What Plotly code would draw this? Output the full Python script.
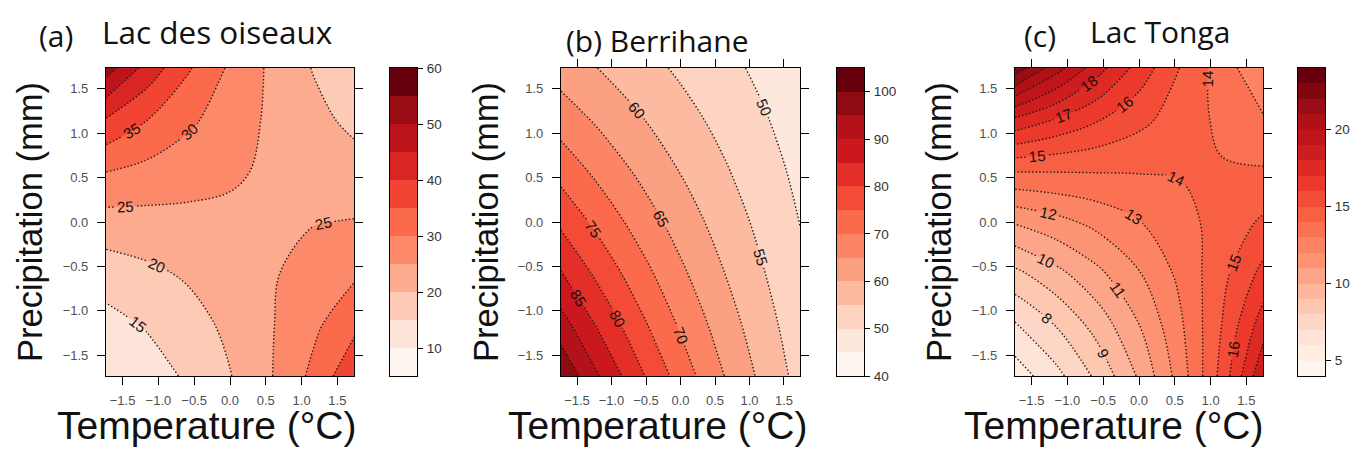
import numpy as np
import plotly.graph_objects as go

# ---------------- data ----------------
temperature = [-1.732, -1.155, -0.577, 0.0, 0.577, 1.155, 1.732]
precipitation = [-1.732, -1.155, -0.577, 0.0, 0.577, 1.155, 1.732]

# rows: precipitation low -> high ; columns: temperature low -> high
oiseaux = [
    [10.05, 12.59, 15.79, 19.79, 24.80, 31.10, 38.97],
    [13.23, 15.46, 18.07, 21.12, 24.68, 28.85, 33.71],
    [17.42, 18.98, 20.68, 22.54, 24.55, 26.76, 29.15],
    [22.93, 23.29, 23.67, 24.05, 24.43, 24.82, 25.22],
    [30.18, 28.59, 27.08, 25.66, 24.31, 23.03, 21.82],
    [39.74, 35.10, 31.00, 27.38, 24.19, 21.36, 18.87],
    [52.31, 43.08, 35.48, 29.22, 24.07, 19.82, 16.32],
]
berrihane = [
    [99.47, 89.64, 80.80, 72.83, 65.64, 59.17, 53.32],
    [92.12, 83.79, 76.21, 69.32, 63.06, 57.36, 52.16],
    [85.30, 78.30, 71.88, 65.98, 60.56, 55.59, 51.03],
    [79.00, 73.18, 67.80, 62.80, 58.18, 53.89, 49.92],
    [73.17, 68.40, 63.94, 59.78, 55.89, 52.24, 48.84],
    [67.75, 63.92, 60.31, 56.89, 53.68, 50.64, 47.78],
    [62.75, 59.75, 56.88, 54.16, 51.57, 49.09, 46.74],
]
tonga = [
    [5.44, 6.70, 8.24, 10.13, 12.46, 15.32, 18.84],
    [6.90, 8.06, 9.42, 10.99, 12.84, 15.00, 17.52],
    [8.75, 9.71, 10.77, 11.94, 13.25, 14.69, 16.29],
    [11.10, 11.68, 12.31, 12.96, 13.65, 14.38, 15.15],
    [14.07, 14.07, 14.07, 14.07, 14.08, 14.08, 14.09],
    [17.84, 16.94, 16.09, 15.29, 14.52, 13.79, 13.10],
    [22.61, 20.40, 18.40, 16.60, 14.97, 13.50, 12.18],
]

panel_letters = ["(a)", "(b)", "(c)"]
panel_names = ["Lac des oiseaux", "Berrihane", "Lac Tonga"]
colorbar_ranges = [(5, 60, 5), (40, 105, 5), (4, 24, 1)]
colorbar_ticks = [[10, 20, 30, 40, 50, 60], [40, 50, 60, 70, 80, 90, 100], [5, 10, 15, 20]]
axis_ticks = [-1.5, -1.0, -0.5, 0.0, 0.5, 1.0, 1.5]

reds = ["#fff5f0", "#fee0d2", "#fcbba1", "#fc9272", "#fb6a4a",
        "#ef3b2c", "#cb181d", "#a50f15", "#67000d"]
colorscale = [[i / (len(reds) - 1), c] for i, c in enumerate(reds)]

# ---------------- layout geometry (page pixels) ----------------
# the page body has an 8px margin, so the figure is 1344x439 placed at (8, 8)
OFF = 8
W, H = 1344, 439
plot_x = [(106, 354), (561, 800), (1015, 1263)]
cbar_x = [(390, 417), (837, 864), (1298, 1325)]
plot_top, plot_bottom = 68, 376


def fx(px):
    return (px - OFF) / W


def fy(py):
    return 1 - (py - OFF) / H


fig = go.Figure()
layout = dict(
    width=W, height=H, margin=dict(l=0, r=0, t=0, b=0, pad=0, autoexpand=False),
    paper_bgcolor="white", plot_bgcolor="white", showlegend=False,
    annotations=[],
)

tick_font = dict(family="Liberation Sans", size=13, color="#505050")
datasets = [oiseaux, berrihane, tonga]
tick_text = [f"{v:.1f}".replace("-", "\u2212") for v in axis_ticks]

for k in range(3):
    lo, hi, step = colorbar_ranges[k]
    xa = f"x{2 * k + 1}" if k else "x"
    ya = f"y{2 * k + 1}" if k else "y"
    xc, yc = f"x{2 * k + 2}", f"y{2 * k + 2}"

    fig.add_trace(go.Contour(
        x=temperature, y=precipitation, z=datasets[k],
        xaxis=xa, yaxis=ya,
        colorscale=colorscale, zmin=lo, zmax=hi, showscale=False,
        contours=dict(start=lo + step, end=hi - step, size=step, coloring="fill",
                      showlabels=True, labelformat=".0f",
                      labelfont=dict(family="Liberation Sans", size=15, color="#111")),
        line=dict(color="#1a1a1a", width=1.4, dash="1.4px,2.2px", smoothing=1.0),
        hoverinfo="skip",
    ))

    edges = np.arange(lo, hi + step / 2, step)
    centers = (edges[:-1] + edges[1:]) / 2
    fig.add_trace(go.Heatmap(
        x=[0, 1], y=edges, z=[[c] for c in centers],
        xaxis=xc, yaxis=yc, colorscale=colorscale,
        zmin=lo + step / 2, zmax=hi - step / 2, showscale=False, hoverinfo="skip",
    ))

    sfx = str(2 * k + 1) if k else ""
    layout["xaxis" + sfx] = dict(
        domain=[fx(plot_x[k][0]), fx(plot_x[k][1])], anchor=ya, automargin=False,
        range=[-1.732, 1.732], tickvals=axis_ticks, ticktext=tick_text,
        ticks="outside", ticklen=8, tickwidth=1, tickcolor="black",
        showline=True, linecolor="black", linewidth=1.2,
        mirror=("ticks" if k else True), showgrid=False, zeroline=False,
        tickfont=tick_font, ticklabelstandoff=4,
    )
    layout["yaxis" + sfx] = dict(
        domain=[fy(plot_bottom), fy(plot_top)], anchor=xa, automargin=False,
        range=[-1.732, 1.732], tickvals=axis_ticks, ticktext=tick_text,
        ticks="outside", ticklen=8, tickwidth=1, tickcolor="black",
        showline=True, linecolor="black", linewidth=1.2,
        mirror="ticks", showgrid=False, zeroline=False,
        tickfont=tick_font, ticklabelstandoff=6,
    )
    sc = str(2 * k + 2)
    layout["xaxis" + sc] = dict(
        domain=[fx(cbar_x[k][0]), fx(cbar_x[k][1])], anchor=yc, range=[0, 1], automargin=False,
        showticklabels=False, ticks="", showline=True, linecolor="black", linewidth=1,
        mirror=True, showgrid=False, zeroline=False,
    )
    layout["yaxis" + sc] = dict(
        domain=[fy(plot_bottom), fy(plot_top)], anchor=xc, side="right", automargin=False,
        range=[lo, hi], tickvals=colorbar_ticks[k],
        ticks="outside", ticklen=5, tickwidth=1, tickcolor="black",
        showline=True, linecolor="black", linewidth=1, mirror=True,
        showgrid=False, zeroline=False,
        tickfont=dict(family="Liberation Sans", size=13.5, color="#333333"), ticklabelstandoff=1,
    )

    cy = (plot_top + plot_bottom) / 2
    xtx = [207, 658, 1114][k]
    layout["annotations"].append(dict(
        text="Temperature (\u00b0C)", x=fx(xtx), y=fy(425), xref="paper", yref="paper",
        xanchor="center", yanchor="middle", showarrow=False,
        font=dict(family="Liberation Sans", size=39, color="#111")))
    ytx = [30, 486, 939][k]
    layout["annotations"].append(dict(
        text="Precipitation (mm)", x=fx(ytx), y=fy(cy), xref="paper", yref="paper",
        xanchor="center", yanchor="middle", textangle=-90, showarrow=False,
        font=dict(family="Liberation Sans", size=34.5, color="#111")))

# panel titles
title_font = dict(family="Open Sans", size=30, color="#111")
layout["annotations"] += [
    dict(text=panel_letters[0], x=fx(37), y=fy(35), xanchor="left", yanchor="middle"),
    dict(text=panel_names[0], x=fx(100), y=fy(32), xanchor="left", yanchor="middle",
         font=dict(family="Open Sans", size=31.5, color="#111")),
    dict(text=panel_letters[1] + " " + panel_names[1], x=fx(564), y=fy(40), xanchor="left", yanchor="middle"),
    dict(text=panel_letters[2], x=fx(1022), y=fy(35), xanchor="left", yanchor="middle"),
    dict(text=panel_names[2], x=fx(1088), y=fy(32), xanchor="left", yanchor="middle"),
]
for a in layout["annotations"][-5:]:
    a.update(xref="paper", yref="paper", showarrow=False)
    a.setdefault("font", title_font)

fig.update_layout(**layout)
fig.write_html("out.html")
